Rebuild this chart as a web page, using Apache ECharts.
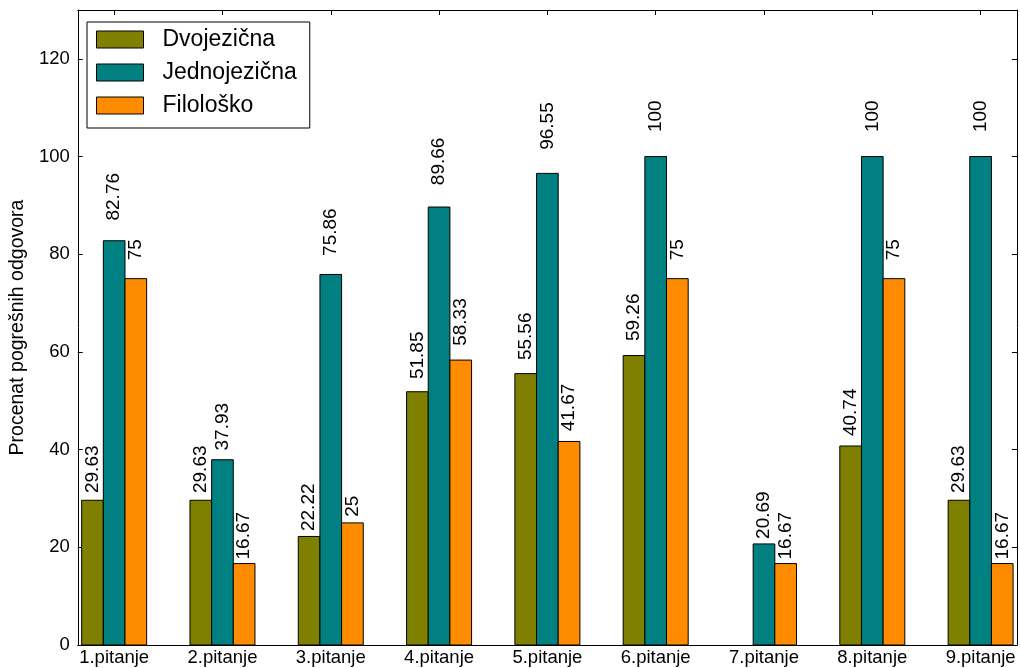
<!DOCTYPE html>
<html><head><meta charset="utf-8">
<script src="https://cdn.jsdelivr.net/npm/echarts@6/dist/echarts.min.js"></script>
<style>html,body{margin:0;padding:0;background:#fff}#c{width:1020px;height:668px}</style>
</head><body><div id="c"></div>
<script>
const categories = ['1.pitanje','2.pitanje','3.pitanje','4.pitanje','5.pitanje','6.pitanje','7.pitanje','8.pitanje','9.pitanje'];
const seriesNames = ['Dvojezična','Jednojezična','Filološko'];
const dvojezicna = [29.63, 29.63, 22.22, 51.85, 55.56, 59.26, 0, 40.74, 29.63];
const jednojezicna = [82.76, 37.93, 75.86, 89.66, 96.55, 100, 20.69, 100, 100];
const filolosko = [75, 16.67, 25, 58.33, 41.67, 75, 16.67, 75, 16.67];
const yTicks = [0, 20, 40, 60, 80, 100, 120];
const xTicks = categories.map((c, i) => i);

const colors = ['#808000', '#008080', '#ff8c00'];
const offsets = [-0.3, -0.1, 0.1];
const barW = 0.2;
const FONT = '"Liberation Sans", Arial, sans-serif';

function makeSeries(name, values, idx) {
  return {
    type: 'custom', name: name,
    xAxisIndex: 0, yAxisIndex: 0,
    data: values.map((v, i) => [i, v]),
    encode: { x: 0, y: 1 },
    itemStyle: { color: colors[idx], borderColor: '#000', borderWidth: 1 },
    renderItem: function (params, api) {
      const x = api.value(0), v = api.value(1);
      if (!v) return null;
      const p0 = api.coord([x + offsets[idx], v]);
      const p1 = api.coord([x + offsets[idx] + barW, 0]);
      const cx = (p0[0] + p1[0]) / 2;
      const pl = api.coord([x, v * 1.05]);
      return {
        type: 'group',
        children: [
          { type: 'rect', shape: { x: p0[0], y: p0[1], width: p1[0] - p0[0], height: p1[1] - p0[1] },
            style: { fill: colors[idx], stroke: '#000', lineWidth: 1 } },
          { type: 'text', x: cx, y: pl[1], rotation: Math.PI / 2,
            style: { text: String(v), fill: '#000', font: '19px ' + FONT, align: 'left', verticalAlign: 'middle' } }
        ]
      };
    }
  };
}

const lineStyle = { show: true, onZero: false, lineStyle: { color: '#000', width: 1 } };

const chart = echarts.init(document.getElementById('c'), null, { renderer: 'canvas' });
chart.setOption({
  animation: false,
  backgroundColor: '#fff',
  textStyle: { fontFamily: FONT },
  grid: { left: 76, right: 3, top: 10, bottom: 23, containLabel: false },
  legend: {
    data: seriesNames,
    orient: 'vertical',
    left: 87, top: 22,
    icon: 'rect',
    itemWidth: 47, itemHeight: 17, itemGap: 10,
    padding: [6, 13, 11, 9],
    borderColor: '#000', borderWidth: 1, borderRadius: 0,
    backgroundColor: '#fff',
    itemStyle: { borderColor: '#000', borderWidth: 1 },
    textStyle: { fontSize: 23, fontFamily: FONT, color: '#000', padding: [0, 0, 0, 14] }
  },
  xAxis: [
    {
      type: 'value', position: 'bottom', min: -0.336, max: 8.336,
      axisLine: lineStyle, splitLine: { show: false },
      axisTick: { show: true, inside: true, length: 5, customValues: xTicks, lineStyle: { color: '#000' } },
      axisLabel: { show: true, customValues: xTicks, formatter: v => categories[Math.round(v)] || '',
        fontSize: 18.5, color: '#000', margin: 3, fontFamily: FONT }
    },
    {
      type: 'value', position: 'top', min: -0.336, max: 8.336,
      axisLine: lineStyle, splitLine: { show: false },
      axisTick: { show: true, inside: true, length: 5, customValues: xTicks, lineStyle: { color: '#000' } },
      axisLabel: { show: false }
    }
  ],
  yAxis: [
    {
      type: 'value', position: 'left', min: 0, max: 130,
      axisLine: lineStyle, splitLine: { show: false },
      name: 'Procenat pogrešnih odgovora', nameLocation: 'middle', nameGap: 47,
      nameTextStyle: { fontSize: 19.5, color: '#000', fontFamily: FONT },
      axisTick: { show: true, inside: true, length: 5, customValues: yTicks, lineStyle: { color: '#000' } },
      axisLabel: { show: true, customValues: yTicks, fontSize: 18.5, color: '#000', margin: 8, fontFamily: FONT }
    },
    {
      type: 'value', position: 'right', min: 0, max: 130,
      axisLine: lineStyle, splitLine: { show: false },
      axisTick: { show: true, inside: true, length: 5, customValues: yTicks, lineStyle: { color: '#000' } },
      axisLabel: { show: false }
    }
  ],
  series: [
    makeSeries(seriesNames[0], dvojezicna, 0),
    makeSeries(seriesNames[1], jednojezicna, 1),
    makeSeries(seriesNames[2], filolosko, 2)
  ]
});
</script></body></html>
